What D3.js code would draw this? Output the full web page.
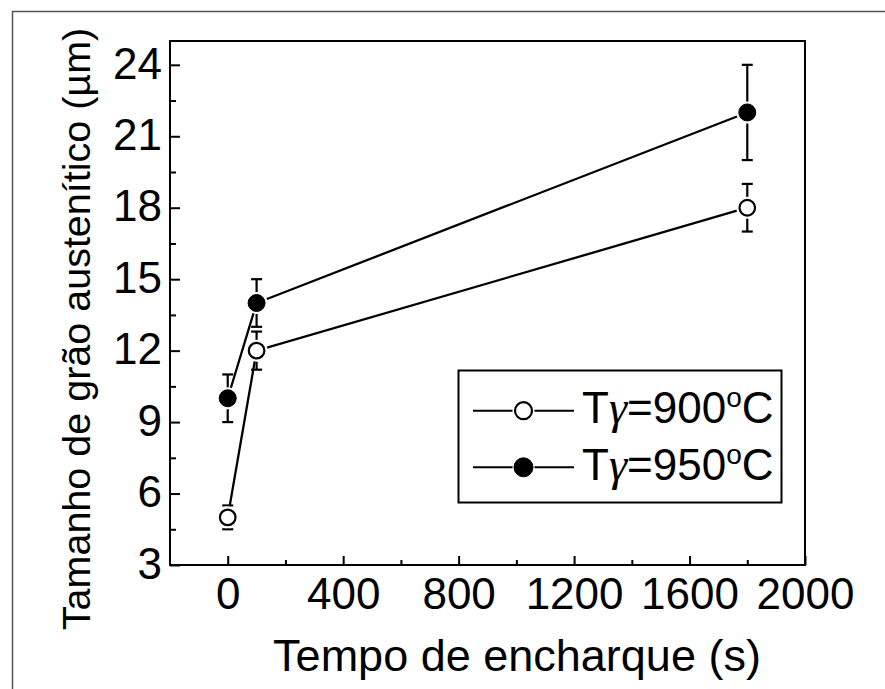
<!DOCTYPE html>
<html><head><meta charset="utf-8">
<script src="https://cdn.jsdelivr.net/npm/d3@7"></script>
<style>
body{margin:0;background:#fff}
svg{display:block}
text{font-family:"Liberation Sans",Arial,Helvetica,sans-serif;fill:#000}
</style>
</head><body>
<svg id="chart" width="885" height="689"></svg>
<script>
// ---- data ----
const times = [0, 100, 1800];
const series900 = [5, 12, 18];
const err900 = [0.5, 0.8, 1];
const series950 = [10, 14, 22];
const err950 = [1, 1, 2];
const legendLabels = ["900", "950"];
const xTicks = [0, 400, 800, 1200, 1600, 2000];
const xMinor = [200, 600, 1000, 1400, 1800];
const yTicks = [3, 6, 9, 12, 15, 18, 21, 24];
const yMinor = [4.5, 7.5, 10.5, 13.5, 16.5, 19.5, 22.5];
const xTitle = "Tempo de encharque (s)";
const yTitle = "Tamanho de grão austenítico (µm)";

const svg = d3.select("#chart");
const W = 885, H = 689;
const plot = {l: 170, r: 805, t: 41, b: 565};

const x = d3.scaleLinear().domain([-200, 2000]).range([plot.l, plot.r]);
const y = d3.scaleLinear().domain([3, 25]).range([plot.b, plot.t]);

svg.append("rect").attr("width", W).attr("height", H).attr("fill", "#fff");
// outer frame
svg.append("rect").attr("x", 12.5).attr("y", 11.5).attr("width", 900).attr("height", 700)
  .attr("fill", "none").attr("stroke", "#555").attr("stroke-width", 1.5);

// axes
const fs = 44;
const gx = svg.append("g").attr("transform", `translate(0,${plot.b})`)
  .call(d3.axisBottom(x).tickValues(xTicks).tickSize(-9).tickPadding(13).tickFormat(d3.format("d")));
const gxm = svg.append("g").attr("transform", `translate(0,${plot.b})`)
  .call(d3.axisBottom(x).tickValues(xMinor).tickSize(-5).tickFormat(""));
const gy = svg.append("g").attr("transform", `translate(${plot.l},0)`)
  .call(d3.axisLeft(y).tickValues(yTicks).tickSize(-10).tickPadding(8));
const gym = svg.append("g").attr("transform", `translate(${plot.l},0)`)
  .call(d3.axisLeft(y).tickValues(yMinor).tickSize(-6).tickFormat(""));
[gx, gxm, gy, gym].forEach(g => {
  g.select(".domain").remove();
  g.selectAll(".tick line").attr("stroke", "#000").attr("stroke-width", 2);
  g.selectAll("text").attr("font-size", fs).attr("font-family", null).attr("fill", "#000");
});
gy.selectAll("text").attr("dy", "0.3em");

// plot frame
svg.append("rect").attr("x", plot.l).attr("y", plot.t)
  .attr("width", plot.r - plot.l).attr("height", plot.b - plot.t)
  .attr("fill", "none").attr("stroke", "#000").attr("stroke-width", 2);

// titles
svg.append("text").attr("x", 517).attr("y", 671)
  .attr("text-anchor", "middle").attr("font-size", 45).text(xTitle);
svg.append("text").attr("transform", "translate(90,329) rotate(-90)")
  .attr("text-anchor", "middle").attr("font-size", 39.5).text(yTitle);

// series
const series = [
  {vals: series900, errs: err900, fill: "#fff"},
  {vals: series950, errs: err950, fill: "#000"}
];
const line = d3.line().x(d => x(d.t)).y(d => y(d.v));
series.forEach(s => {
  const pts = times.map((t, i) => ({t, v: s.vals[i], e: s.errs[i]}));
  s.pts = pts;
  svg.append("path").datum(pts).attr("d", line)
    .attr("fill", "none").attr("stroke", "#000").attr("stroke-width", 2.3);
});
series.forEach(s => {
  const g = svg.append("g");
  s.pts.forEach(p => {
    const cx = x(p.t), y0 = y(p.v - p.e), y1 = y(p.v + p.e);
    g.append("line").attr("x1", cx).attr("x2", cx).attr("y1", y0).attr("y2", y1)
      .attr("stroke", "#000").attr("stroke-width", 2.2);
    [y0, y1].forEach(yy => g.append("line").attr("x1", cx - 5.5).attr("x2", cx + 5.5)
      .attr("y1", yy).attr("y2", yy).attr("stroke", "#000").attr("stroke-width", 2.2));
  });
});
series.forEach(s => {
  s.pts.forEach(p => {
    svg.append("circle").attr("cx", x(p.t)).attr("cy", y(p.v)).attr("r", 11).attr("fill", "#fff");
  });
});
series.forEach(s => {
  s.pts.forEach(p => {
    svg.append("circle").attr("cx", x(p.t)).attr("cy", y(p.v)).attr("r", s.fill === "#fff" ? 7.8 : 8.5)
      .attr("fill", s.fill).attr("stroke", "#000").attr("stroke-width", s.fill === "#fff" ? 2.2 : 1);
  });
});

// legend
const lg = svg.append("g");
lg.append("rect").attr("x", 458.5).attr("y", 370.5).attr("width", 323).attr("height", 132)
  .attr("fill", "#fff").attr("stroke", "#000").attr("stroke-width", 2);
const rowsY = [410.7, 467.3];
series.forEach((s, i) => {
  const yy = rowsY[i];
  lg.append("line").attr("x1", 473).attr("x2", 574).attr("y1", yy).attr("y2", yy)
    .attr("stroke", "#000").attr("stroke-width", 2);
  lg.append("circle").attr("cx", 523.5).attr("cy", yy).attr("r", 11).attr("fill", "#fff");
  lg.append("circle").attr("cx", 523.5).attr("cy", yy).attr("r", s.fill === "#fff" ? 8.5 : 9.5)
    .attr("fill", s.fill).attr("stroke", "#000").attr("stroke-width", s.fill === "#fff" ? 2.2 : 1);
  const t = lg.append("text").attr("x", 582).attr("y", yy + 12.6).attr("font-size", fs);
  t.append("tspan").text("T");
  t.append("tspan").attr("font-family", "'Liberation Serif',serif").attr("font-style", "italic").attr("font-size", 46).text("γ");
  t.append("tspan").text("=" + legendLabels[i]);
  t.append("tspan").attr("font-size", 28).attr("dy", -16).text("o");
  t.append("tspan").attr("dy", 16).text("C");
});
</script>
</body></html>
